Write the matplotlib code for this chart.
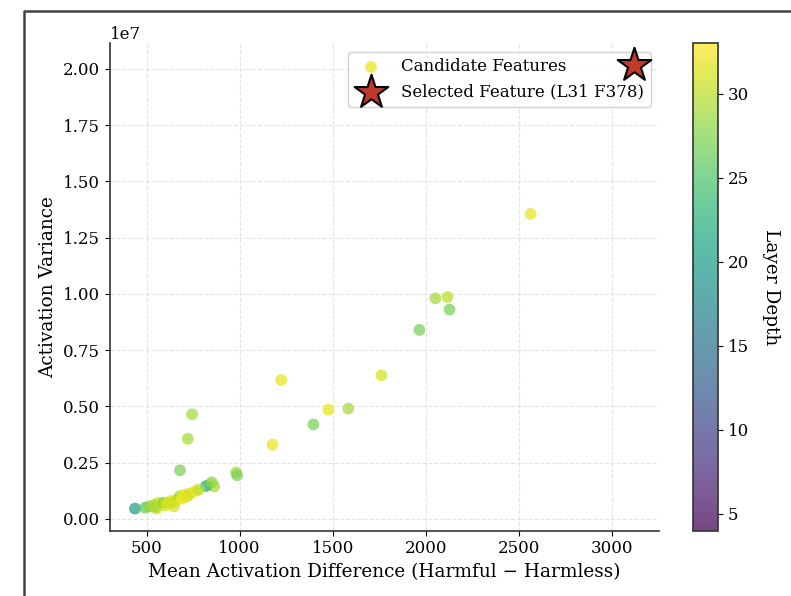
import matplotlib
matplotlib.use("Agg")
import matplotlib.pyplot as plt
from matplotlib.lines import Line2D
import numpy as np

# ---- data ----
mean_diff = [1223, 2564, 2052, 2117, 2128, 1966, 1762, 1584, 1477, 1396, 1176,
             744, 721, 679, 981, 986, 841, 864, 819, 850,
             437, 491, 510, 536, 554, 560, 572, 590, 600, 626, 640, 647, 660,
             679, 690, 706, 720, 733, 760, 780, 545, 615, 700]
variance = [6.17e6, 13.55e6, 9.80e6, 9.86e6, 9.30e6, 8.40e6, 6.38e6, 4.90e6, 4.85e6, 4.20e6, 3.30e6,
            4.65e6, 3.56e6, 2.16e6, 2.06e6, 1.94e6, 1.53e6, 1.44e6, 1.46e6, 1.63e6,
            0.46e6, 0.50e6, 0.55e6, 0.61e6, 0.46e6, 0.70e6, 0.68e6, 0.72e6, 0.60e6, 0.79e6, 0.75e6, 0.56e6, 0.86e6,
            1.01e6, 0.90e6, 1.08e6, 1.00e6, 1.13e6, 1.23e6, 1.30e6, 0.52e6, 0.70e6, 0.95e6]
layers = [32, 32, 29, 30, 27, 27, 31, 29, 32, 27, 32,
          29, 29, 27, 29, 27, 32, 29, 22, 28,
          20, 26, 28, 29, 31, 30, 32, 27, 31, 32, 30, 31, 31,
          29, 33, 32, 30, 31, 32, 30, 29, 31, 32]

selected_x = [3120]
selected_y = [2.015e7]
selected_label = "Selected Feature (L31 F378)"

plt.rcParams['font.family'] = ['DejaVu Serif']

fig = plt.figure(figsize=(7.91, 5.96), dpi=100)
ax = fig.add_axes([110/791, 1-530.7/596, (659-110)/791, (530.7-43.3)/596])
cax = fig.add_axes([693/791, 1-530.7/596, 25/791, (530.7-43.3)/596])

sc = ax.scatter(mean_diff, variance, c=layers, cmap='viridis', vmin=4, vmax=33,
                s=72, alpha=0.72, edgecolors='none', label='Candidate Features')
ax.scatter(selected_x, selected_y, marker='*', s=650, color='#c0392b',
           edgecolors='black', linewidths=1.5, label=selected_label, zorder=10)

ax.grid(True, linestyle='--', color='#dddddd', alpha=0.8, linewidth=0.8)
ax.set_axisbelow(True)
for s in ['top', 'right']:
    ax.spines[s].set_visible(False)
for s in ['left', 'bottom']:
    ax.spines[s].set_color('#333333')
    ax.spines[s].set_linewidth(1.2)

ax.set_xlabel('Mean Activation Difference (Harmful − Harmless)', fontsize=13.3)
ax.set_ylabel('Activation Variance', fontsize=13.3)
ax.tick_params(labelsize=12)
ax.yaxis.get_offset_text().set_fontsize(12)
ax.set_xticks([500, 1000, 1500, 2000, 2500, 3000])

leg = ax.legend(loc='upper right', fontsize=12, framealpha=0.9)
leg.set_zorder(5)

cb = fig.colorbar(sc, cax=cax)
cb.set_label('Layer Depth', rotation=270, labelpad=22, fontsize=13.3)
cb.ax.tick_params(labelsize=12)
cb.outline.set_edgecolor('#333333')
cb.outline.set_linewidth(1.2)

# outer frame (cropped screenshot border)
x0 = 23.5/791
y0 = 1 - 11/596
fig.add_artist(Line2D([x0, x0, 1.01], [-0.01, y0, y0], transform=fig.transFigure,
                      color='#444444', linewidth=1.8))

fig.savefig('out.png', dpi=100)
